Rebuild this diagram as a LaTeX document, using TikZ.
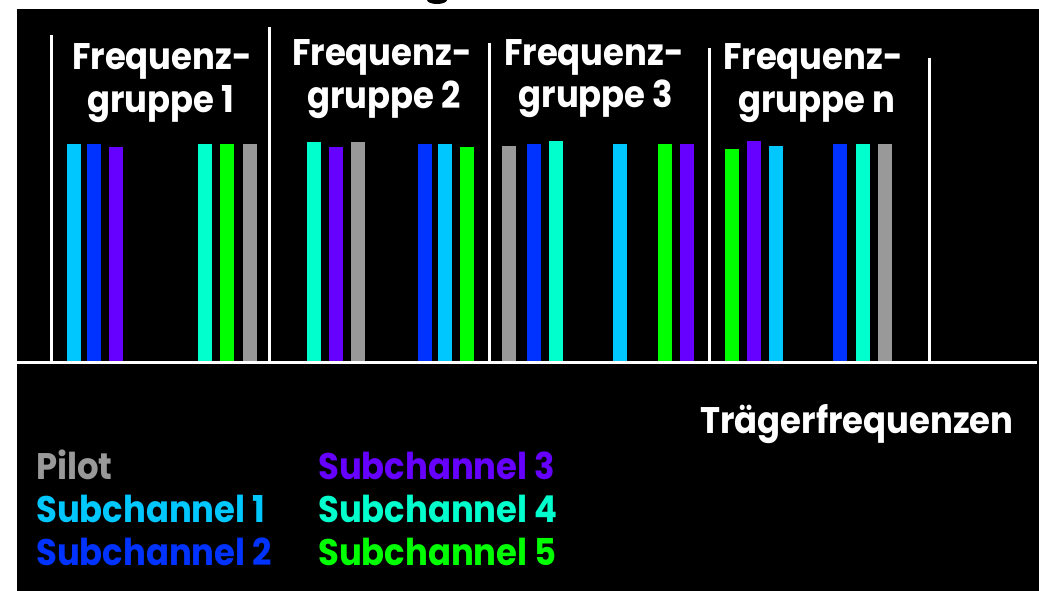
\documentclass[tikz,border=0pt]{standalone}
\usepackage{fontspec}
\setmainfont{Poppins}
\newfontfamily\labfont[FakeStretch=0.915]{Poppins}
\definecolor{cCyan}{HTML}{00C8FF}
\definecolor{cBlue}{HTML}{0033FF}
\definecolor{cViolet}{HTML}{6600FF}
\definecolor{cAqua}{HTML}{00FFCC}
\definecolor{cGreen}{HTML}{00FF00}
\definecolor{cGray}{HTML}{999999}
\newcommand\chbar[3]{\fill[#3] (#1-7,#2) rectangle (#1+7,361);}
\begin{document}
\begin{tikzpicture}[x=1pt,y=-1pt,
  lab/.style={inner sep=0pt,font=\labfont\bfseries\fontsize{37}{37}\selectfont},
  grp/.style={lab,text=white,anchor=base},
  leg/.style={lab,anchor=base west},
  axis/.style={white,line width=3pt}]
% canvas
\fill[white] (0,0) rectangle (1039,591);
\fill[black] (17,9) rectangle (1039,591);
\fill[black] (427,0) arc[start angle=180,end angle=0,x radius=10,y radius=4] -- cycle;
% group separators
\draw[axis] (51.5,35) -- (51.5,362);
\draw[axis] (269,27) -- (269,362);
\draw[axis] (489,43) -- (489,362);
\draw[axis] (709,48) -- (709,362);
\draw[axis] (929,58) -- (929,362);
% bars group 1
\chbar{74}{144}{cCyan}
\chbar{94}{144}{cBlue}
\chbar{116}{147}{cViolet}
\chbar{205}{144}{cAqua}
\chbar{227}{144}{cGreen}
\chbar{250}{144}{cGray}
% group 2
\chbar{314}{142}{cAqua}
\chbar{336}{147}{cViolet}
\chbar{358}{142}{cGray}
\chbar{425}{144}{cBlue}
\chbar{445}{144}{cCyan}
\chbar{467}{147}{cGreen}
% group 3
\chbar{509}{146}{cGray}
\chbar{534}{144}{cBlue}
\chbar{556}{141}{cAqua}
\chbar{620}{144}{cCyan}
\chbar{665}{144}{cGreen}
\chbar{687}{144}{cViolet}
% group n
\chbar{732}{149}{cGreen}
\chbar{754}{141}{cViolet}
\chbar{776}{146}{cCyan}
\chbar{840}{144}{cBlue}
\chbar{863}{144}{cAqua}
\chbar{885}{144}{cGray}
% baseline
\draw[axis] (17,362) -- (1037,362);
% group labels
\node[grp] (g1a) at (162,70) {Frequenz-};
\node[grp] (g1b) at (161,113) {gruppe 1};
\node[grp] (g2a) at (382,66) {Frequenz-};
\node[grp] (g2b) at (384,109) {gruppe 2};
\node[grp] (g3a) at (594,66) {Frequenz-};
\node[grp] (g3b) at (596,108) {gruppe 3};
\node[grp] (gna) at (813,70) {Frequenz-};
\node[grp] (gnb) at (817,113) {gruppe n};
% axis label
\node[leg,text=white] (tf) at (700,433) {Trägerfrequenzen};
% legend
\node[leg,text=cGray] (l0) at (36,479) {Pilot};
\node[leg,text=cCyan] (l1) at (36,522) {Subchannel 1};
\node[leg,text=cBlue] (l2) at (36,565) {Subchannel 2};
\node[leg,text=cViolet] (l3) at (318,479) {Subchannel 3};
\node[leg,text=cAqua] (l4) at (318,522) {Subchannel 4};
\node[leg,text=cGreen] (l5) at (318,565) {Subchannel 5};
\end{tikzpicture}
\end{document}
